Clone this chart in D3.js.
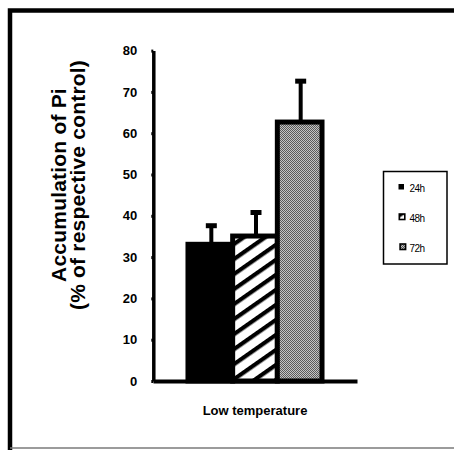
<!DOCTYPE html>
<html>
<head>
<meta charset="utf-8">
<script src="https://cdn.jsdelivr.net/npm/d3@7"></script>
<style>
  body { margin: 0; background: #fff; }
  text { font-family: "Liberation Sans", Arial, sans-serif; }
</style>
</head>
<body>
<div id="chart"></div>
<script>
// data
var categories = ["Low temperature"];
var series = ["24h", "48h", "72h"];
var values = [33.1, 35.1, 62.7];
var errors = [4.5, 5.7, 9.9];
var yTicks = [0, 10, 20, 30, 40, 50, 60, 70, 80];

var svgWidth = 454;
var svgHeight = 450;

var svg = d3.select("#chart")
    .append("svg")
    .attr("width", svgWidth)
    .attr("height", svgHeight);

var defs = svg.append("defs");

// diagonal stripes for 48h
var hatch = defs.append("pattern")
    .attr("id", "hatch")
    .attr("patternUnits", "userSpaceOnUse")
    .attr("width", 12.3)
    .attr("height", 12.3)
    .attr("patternTransform", "rotate(55)");
hatch.append("rect")
    .attr("width", 12.3)
    .attr("height", 12.3)
    .attr("fill", "#fff");
hatch.append("rect")
    .attr("width", 4.2)
    .attr("height", 12.3)
    .attr("fill", "#000");

// fine checker dots for 72h
var dots = defs.append("pattern")
    .attr("id", "dots")
    .attr("patternUnits", "userSpaceOnUse")
    .attr("width", 2)
    .attr("height", 2);
dots.append("rect").attr("width", 2).attr("height", 2).attr("fill", "#c4c4c4");
dots.append("rect").attr("width", 1).attr("height", 1).attr("fill", "#5a5a5a");
dots.append("rect").attr("x", 1).attr("y", 1).attr("width", 1).attr("height", 1).attr("fill", "#5a5a5a");

var fills = ["#000", "url(#hatch)", "url(#dots)"];

// frame around the figure
svg.append("path")
    .attr("d", "M10,452V10.5H456")
    .attr("fill", "none")
    .attr("stroke", "#000")
    .attr("stroke-width", 4.5);
svg.append("line")
    .attr("x1", 10).attr("x2", 454)
    .attr("y1", 448).attr("y2", 448)
    .attr("stroke", "#7a7a7a")
    .attr("stroke-width", 1.5);

// scales
var x0 = d3.scaleBand()
    .domain(categories)
    .range([153, 357])
    .paddingInner(0)
    .paddingOuter(0.261);

var x1 = d3.scaleBand()
    .domain(series)
    .range([0, x0.bandwidth()])
    .padding(0);

var y = d3.scaleLinear()
    .domain([0, 80])
    .range([381, 50.6]);

var rows = series.map(function(s, i) {
    return { cat: categories[0], s: s, v: values[i], e: errors[i], fill: fills[i] };
});

var barGroup = svg.append("g");

// error bars (behind the bars)
barGroup.selectAll(".err")
    .data(rows)
    .enter()
    .append("line")
    .attr("x1", d => x0(d.cat) + x1(d.s) + x1.bandwidth() / 2 + 1)
    .attr("x2", d => x0(d.cat) + x1(d.s) + x1.bandwidth() / 2 + 1)
    .attr("y1", d => y(d.v))
    .attr("y2", d => y(d.v + d.e))
    .attr("stroke", "#000")
    .attr("stroke-width", 4);

barGroup.selectAll(".cap")
    .data(rows)
    .enter()
    .append("line")
    .attr("x1", d => x0(d.cat) + x1(d.s) + x1.bandwidth() / 2 + 1 - 5.5)
    .attr("x2", d => x0(d.cat) + x1(d.s) + x1.bandwidth() / 2 + 1 + 5.5)
    .attr("y1", d => y(d.v + d.e))
    .attr("y2", d => y(d.v + d.e))
    .attr("stroke", "#000")
    .attr("stroke-width", 5);

// bars
barGroup.selectAll(".bar")
    .data(rows)
    .enter()
    .append("rect")
    .attr("x", d => x0(d.cat) + x1(d.s))
    .attr("y", d => y(d.v))
    .attr("width", x1.bandwidth())
    .attr("height", d => y(0) - y(d.v))
    .attr("fill", d => d.fill)
    .attr("stroke", "#000")
    .attr("stroke-width", 5);

// y axis
var yAxis = svg.append("g")
    .attr("transform", "translate(153.3,0)")
    .call(d3.axisLeft(y).tickValues(yTicks).tickSize(2).tickSizeOuter(0).tickPadding(14));
yAxis.select(".domain")
    .attr("stroke-width", 3.5);
yAxis.selectAll(".tick line")
    .attr("stroke-width", 3);
yAxis.selectAll(".tick text")
    .attr("font-family", "Liberation Sans, Arial, sans-serif")
    .attr("font-size", 13)
    .attr("font-weight", "bold")
    .attr("fill", "#000");

// x axis
var xAxis = svg.append("g")
    .attr("transform", "translate(0,381)")
    .call(d3.axisBottom(x0).tickSize(0).tickSizeOuter(0).tickPadding(25));
xAxis.select(".domain")
    .attr("stroke-width", 4);
xAxis.selectAll(".tick text")
    .attr("font-family", "Liberation Sans, Arial, sans-serif")
    .attr("font-size", 13)
    .attr("font-weight", "bold")
    .attr("fill", "#000");

// y axis title, two lines
var yTitle = svg.append("text")
    .attr("transform", "translate(65.5,185) rotate(-90)")
    .attr("text-anchor", "middle")
    .style("font-size", "21px")
    .style("font-weight", "bold")
    .style("letter-spacing", "0.2px");
yTitle.append("tspan")
    .attr("x", 0)
    .attr("y", 0)
    .text("Accumulation of Pi");
yTitle.append("tspan")
    .attr("x", 0)
    .attr("y", 19)
    .text("(% of respective control)");

// legend
var legend = svg.append("g");
legend.append("rect")
    .attr("x", 383.5)
    .attr("y", 171.5)
    .attr("width", 63.5)
    .attr("height", 92.5)
    .attr("fill", "#fff")
    .attr("stroke", "#000")
    .attr("stroke-width", 1.5);

var legendItems = legend.selectAll(".item")
    .data(rows)
    .enter()
    .append("g")
    .attr("transform", (d, i) => `translate(0, ${192 + i * 30})`);

legendItems.append("rect")
    .attr("x", (d, i) => 398.5 + i * 0.8)
    .attr("y", -8)
    .attr("width", 5.5)
    .attr("height", 5.5)
    .attr("fill", d => d.fill)
    .attr("stroke", "#000")
    .attr("stroke-width", d => d.s === "24h" ? 0 : 1.6);

legendItems.append("text")
    .attr("x", 409.5)
    .attr("y", 0)
    .style("font-size", "10px")
    .style("letter-spacing", "-0.6px")
    .text(d => d.s);
</script>
</body>
</html>
